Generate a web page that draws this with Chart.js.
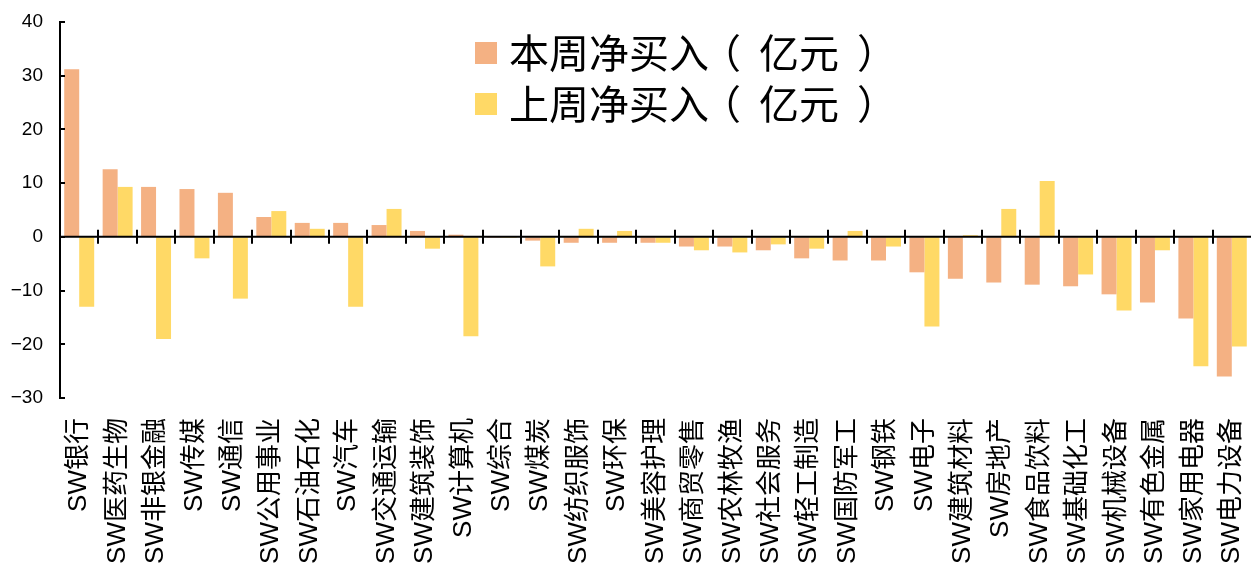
<!DOCTYPE html>
<html>
<head>
<meta charset="utf-8">
<script src="https://cdn.jsdelivr.net/npm/chart.js@4/dist/chart.umd.min.js"></script>
<style>
  html, body { margin: 0; padding: 0; background: #fff; }
  #wrap { width: 1251px; height: 564px; }
</style>
</head>
<body>
<div id="wrap"><canvas id="BarChart"></canvas></div>
<script>
var industries = ['SW银行','SW医药生物','SW非银金融','SW传媒','SW通信','SW公用事业','SW石油石化','SW汽车',
  'SW交通运输','SW建筑装饰','SW计算机','SW综合','SW煤炭','SW纺织服饰','SW环保','SW美容护理',
  'SW商贸零售','SW农林牧渔','SW社会服务','SW轻工制造','SW国防军工','SW钢铁','SW电子','SW建筑材料',
  'SW房地产','SW食品饮料','SW基础化工','SW机械设备','SW有色金属','SW家用电器','SW电力设备'];

var thisWeek = [31.2, 12.6, 9.3, 8.9, 8.2, 3.7, 2.6, 2.6, 2.2, 1.1, 0.4, -0.2, -0.7, -1.1, -1.1, -1.1,
  -1.8, -1.8, -2.5, -4.0, -4.4, -4.4, -6.6, -7.8, -8.5, -8.9, -9.2, -10.7, -12.2, -15.2, -26.0];

var lastWeek = [-13.0, 9.3, -19.0, -4.0, -11.5, 4.8, 1.5, -13.0, 5.2, -2.2, -18.5, -0.2, -5.5, 1.5, 1.1, -1.1,
  -2.5, -2.9, -1.4, -2.2, 1.1, -1.8, -16.7, 0.3, 5.2, 10.4, -7.0, -13.7, -2.5, -24.1, -20.4];

var yMin = -30, yMax = 40, yStep = 10;

var latinFont = '"Liberation Sans", Arial, "Noto Sans CJK SC", sans-serif';

// scales would otherwise reserve room for their end labels
function noEdgePadding(s) {
  s.paddingTop = 0;
  s.paddingBottom = 0;
  s.paddingLeft = 0;
  s.paddingRight = 0;
}

// legend text drawn glyph by glyph so the brackets sit centred in a wider cell
function drawLegendText(ctx, text, x, y) {
  for (var i = 0; i < text.length; i++) {
    var ch = text[i];
    var m = ctx.measureText(ch);
    if (ch === '（' || ch === '）') {
      var ink = m.actualBoundingBoxLeft + m.actualBoundingBoxRight;
      ctx.fillText(ch, x + (50 - ink) / 2 + m.actualBoundingBoxLeft, y);
      x += 50;
    } else {
      ctx.fillText(ch, x, y);
      x += m.width;
    }
  }
}

// axis marks: zero line with category ticks, inward ticks on the value axis, legend block
var axisMarks = {
  id: 'axisMarks',
  afterDatasetsDraw: function(chart) {
    var ctx = chart.ctx;
    var xs = chart.scales.x, ys = chart.scales.y;
    var area = chart.chartArea;
    var y0 = ys.getPixelForValue(0);
    ctx.save();
    ctx.strokeStyle = '#000';
    ctx.lineWidth = 2;
    ctx.beginPath();
    ctx.moveTo(area.left, y0);
    ctx.lineTo(area.right, y0);
    ctx.stroke();

    // tick marks between categories
    for (var i = 1; i < industries.length; i++) {
      var x = Math.round((xs.getPixelForTick(i - 1) + xs.getPixelForTick(i)) / 2);
      ctx.beginPath();
      ctx.moveTo(x, y0 - 7);
      ctx.lineTo(x, y0 + 7);
      ctx.stroke();
    }

    for (var v = yMin; v <= yMax; v += yStep) {
      var y = Math.round(ys.getPixelForValue(v));
      ctx.beginPath();
      ctx.moveTo(area.left, y);
      ctx.lineTo(area.left + 5, y);
      ctx.stroke();
    }
    ctx.restore();
  },
  afterDraw: function(chart) {
    var ctx = chart.ctx;
    ctx.save();
    ctx.font = '40px "Noto Sans CJK SC", sans-serif';
    ctx.textBaseline = 'middle';
    ctx.textAlign = 'left';
    chart.data.datasets.forEach(function(ds, i) {
      var top = 42 + i * 51;
      ctx.fillStyle = ds.backgroundColor;
      ctx.fillRect(475, top, 22, 22);
      ctx.fillStyle = '#000';
      drawLegendText(ctx, ds.label, 509, top + 11);
    });
    ctx.restore();
  }
};

var data = {
  labels: industries,
  datasets: [{
    label: '本周净买入（亿元）',
    backgroundColor: '#F4B183',
    data: thisWeek
  }, {
    label: '上周净买入（亿元）',
    backgroundColor: '#FFD966',
    data: lastWeek
  }]
};

var config = {
  type: 'bar',
  data: data,
  options: {
    responsive: true,
    maintainAspectRatio: false,
    animation: false,
    layout: { padding: { top: 22, left: 0, right: 0, bottom: 0 } },
    datasets: { bar: { categoryPercentage: 0.78, barPercentage: 1.0 } },
    plugins: {
      legend: { display: false },
      tooltip: { enabled: false }
    },
    scales: {
      x: {
        grid: { display: false, drawTicks: false },
        border: { display: false },
        ticks: {
          autoSkip: false,
          minRotation: 90,
          maxRotation: 90,
          padding: 20,
          color: '#000',
          font: { family: latinFont, size: 26 }
        },
        afterFit: function(s) { s.height = 166; noEdgePadding(s); }
      },
      y: {
        min: yMin,
        max: yMax,
        grid: { drawOnChartArea: false, drawTicks: false },
        border: { display: true, color: '#000', width: 2 },
        ticks: {
          stepSize: yStep,
          padding: 17,
          color: '#000',
          font: { family: latinFont, size: 19 },
          callback: function(v) { return String(v).replace('-', '\u2212'); }
        },
        afterFit: function(s) { s.width = 60; noEdgePadding(s); }
      }
    }
  },
  plugins: [axisMarks]
};

var barChart = new Chart(document.getElementById('BarChart'), config);
</script>
</body>
</html>
